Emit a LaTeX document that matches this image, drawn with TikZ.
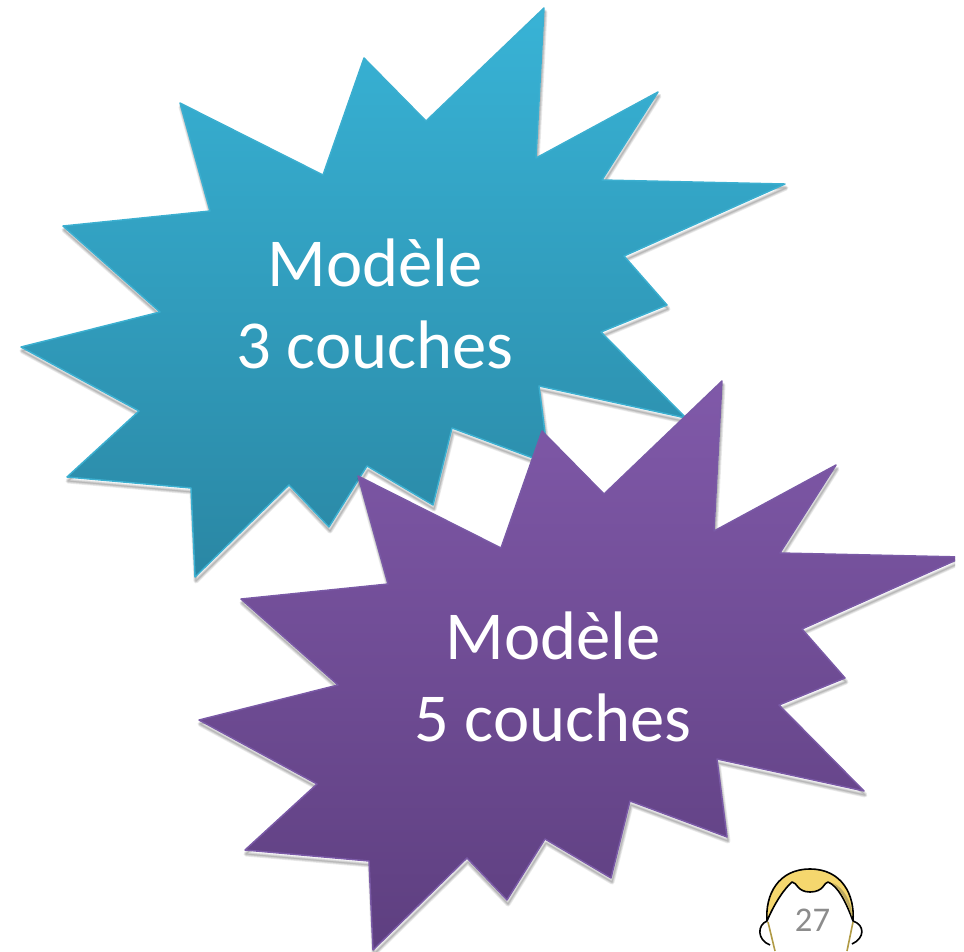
\documentclass[tikz,border=0pt]{standalone}
\usepackage{fontspec}
\setmainfont{Carlito}
\definecolor{bleuhaut}{HTML}{38B3D6}
\definecolor{bleubas}{HTML}{2A87A4}
\definecolor{bleubord}{HTML}{3CAFD0}
\definecolor{violethaut}{HTML}{8059A9}
\definecolor{violetbas}{HTML}{5E3F80}
\definecolor{violetbord}{HTML}{7A5AA6}
\definecolor{cheveux}{HTML}{F5D76E}
\definecolor{meche}{HTML}{B09A45}
\begin{document}
\begin{tikzpicture}[
			x=0.75pt, y=-0.75pt,
			titre/.style={font=\fontsize{51.5}{61}\selectfont, white, align=center, inner sep=0pt},
			numero/.style={font=\fontsize{26}{30}\selectfont, gray!90, inner sep=0pt},
			bleue/.style={top color=bleuhaut, bottom color=bleubas, draw=bleubord, line width=1.1pt, line join=round},
			violette/.style={top color=violethaut, bottom color=violetbas, draw=violetbord, line width=1.1pt, line join=round},
			ombre/.style={draw=black, line join=round, opacity=0.08},
			tete/.style={line width=1.2pt, line join=round, black},
			]
			
			% contour de l'etoile
			\def\etoile{(544,8) -- (536,158) -- (658,92) -- (602,180) -- (785,184) -- (624,256) -- (667,305) -- (601,332) -- (686,418) -- (539,386) -- (549,464) -- (452,428) -- (433,505) -- (367,466) -- (329,527) -- (289,485) -- (195,577) -- (191,488) -- (67,477) -- (139,411) -- (21,347) -- (160,312) -- (63,226) -- (210,211) -- (180,103) -- (323,175) -- (364,58) -- (426,121) -- cycle}
			\def\SHX{178}   % decalage de la seconde etoile
			\def\SHY{373}
			
			\useasboundingbox (0,0) rectangle (964,951);
			
			%%=== etoile bleue ===
			\begin{scope}
				\foreach \w in {5,3.5,2,1}
				\draw[ombre, shift={(1,4)}, line width=\w*0.75pt] \etoile;
				\shade[bleue] \etoile;
				\node[titre] (bleu) at (375,304) {Modèle\\3 couches};
			\end{scope}
			
			%%=== etoile violette (coupee au bord droit) ===
			\begin{scope}
				\clip (0,0) rectangle (955,951);
				\begin{scope}[shift={(\SHX,\SHY)}]
					\foreach \w in {5,3.5,2,1}
					\draw[ombre, shift={(1,4)}, line width=\w*0.75pt] \etoile;
					\shade[violette] \etoile;
					\node[titre] (violet) at (375,304) {Modèle\\5 couches};
				\end{scope}
			\end{scope}
			
			%%=== tete et numero de page ===
			% oreilles
			\draw[tete] (767,921) .. controls (757,925) and (757,940) .. (770,945);
			\draw[tete] (853,921) .. controls (865,925) and (865,938) .. (852,944);
			% cou
			\draw[line width=1.2pt, meche] (768,922) -- (775,951);
			\draw[line width=1.2pt, meche] (853,922) -- (847,951);
			% cheveux
			\draw[tete, fill=cheveux] (767,921) .. controls (765,895) and (778,869) .. (810,869)
			.. controls (842,869) and (855,895) .. (853,921)
			.. controls (846,902) and (838,886) .. (828,882)
			.. controls (824,882) and (824,892) .. (810,892)
			.. controls (797,892) and (797,882) .. (792,882)
			.. controls (785,888) and (775,902) .. (767,921) -- cycle;
			\fill[meche!85] (852,917) .. controls (848,903) and (840,889) .. (833,883)
			.. controls (844,888) and (852,902) .. (852,917) -- cycle;
			\node[numero] (page) at (812.5,920) {27};
			
		\end{tikzpicture}
\end{document}
